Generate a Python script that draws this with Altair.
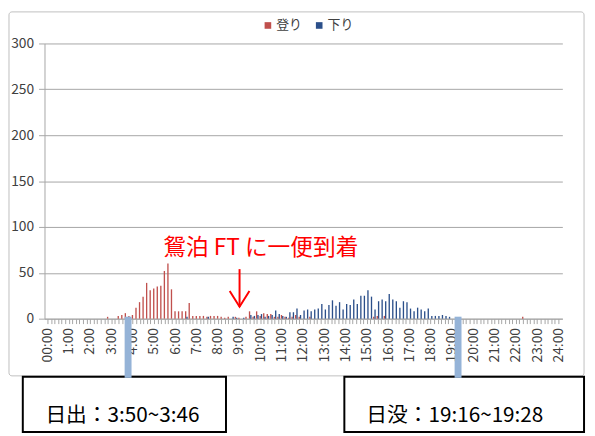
import altair as alt
import pandas as pd

FONT = "Noto Sans CJK JP"

# categories: 10-minute slots 00:00 .. 24:00
times = ["00:00"] + [f"{i // 6}:{(i % 6) * 10:02d}" for i in range(1, 145)]

# 登り (up) counts per 10-minute slot, one row per hour
up = [
    0, 0, 0, 0, 0, 0,      # 0h
    0, 0, 0, 0, 0, 0,      # 1h
    0, 0, 0, 0, 0, 2,      # 2h
    0, 0, 3, 4, 6, 3,      # 3h
    4, 12, 18, 24, 39, 31,  # 4h
    33, 35, 36, 52, 60, 32,  # 5h
    8, 8, 8, 8, 17, 3,     # 6h
    3, 3, 3, 2, 3, 3,      # 7h
    3, 2, 1, 2, 0, 2,      # 8h
    1, 0, 2, 8, 2, 8,      # 9h
    3, 6, 5, 5, 2, 2,      # 10h
    4, 2, 1, 2, 4, 2,      # 11h
    0, 0, 2, 0, 0, 0,      # 12h
    0, 0, 0, 0, 0, 0,      # 13h
    0, 0, 0, 0, 0, 0,      # 14h
    0, 0, 2, 3, 0, 3,      # 15h
    0, 0, 0, 0, 0, 0,      # 16h
    0, 0, 0, 0, 0, 0,      # 17h
    0, 0, 0, 0, 0, 0,      # 18h
    0, 0, 0, 0, 0, 0,      # 19h
    0, 0, 0, 0, 0, 0,      # 20h
    0, 0, 0, 0, 0, 0,      # 21h
    0, 0, 2, 0, 0, 0,      # 22h
    0, 0, 0, 0, 0, 0,      # 23h
    0,                     # 24:00
]

# 下り (down) counts per 10-minute slot
down = [
    0, 0, 0, 0, 0, 0,      # 0h
    0, 0, 0, 0, 0, 0,      # 1h
    0, 0, 0, 0, 0, 0,      # 2h
    0, 0, 0, 0, 0, 0,      # 3h
    0, 0, 0, 0, 0, 0,      # 4h
    0, 0, 0, 0, 0, 0,      # 5h
    0, 0, 0, 2, 0, 0,      # 6h
    0, 0, 0, 2, 0, 0,      # 7h
    0, 0, 0, 0, 2, 1,      # 8h
    0, 1, 0, 4, 3, 4,      # 9h
    5, 2, 3, 4, 9, 5,      # 10h
    3, 2, 7, 7, 11, 4,     # 11h
    9, 10, 8, 10, 11, 16,  # 12h
    10, 15, 20, 14, 18, 10,  # 13h
    16, 15, 21, 16, 25, 25,  # 14h
    31, 24, 10, 19, 21, 19,  # 15h
    27, 21, 19, 12, 19, 18,  # 16h
    11, 8, 12, 10, 8, 11,  # 17h
    3, 3, 3, 4, 3, 2,      # 18h
    0, 0, 0, 0, 0, 0,      # 19h
    0, 0, 0, 0, 0, 0,      # 20h
    0, 0, 0, 0, 0, 0,      # 21h
    0, 0, 0, 0, 0, 0,      # 22h
    0, 0, 0, 0, 0, 0,      # 23h
    0,                     # 24:00
]

series = ["登り", "下り"]
colors = ["#C0504D", "#2B4F8A"]

df = pd.DataFrame({
    "t": times * 2,
    "series": [series[0]] * len(times) + [series[1]] * len(times),
    "v": up + down,
})

xscale = alt.Scale(domain=times, paddingInner=0.25, paddingOuter=0.6)
yscale = alt.Scale(domain=[0, 300])

bars = alt.Chart(df).mark_bar().encode(
    x=alt.X("t:N", sort=times, scale=xscale, axis=alt.Axis(
        title=None, labelAngle=270,
        labelExpr="slice(datum.value, -2) == '00' ? datum.value : ''",
        labelFont=FONT, labelFontSize=14, labelColor="#404040",
        labelOverlap=False, labelPadding=4,
        tickColor="#A6A6A6", tickSize=5, domainColor="#A6A6A6", grid=False)),
    xOffset=alt.XOffset("series:N", sort=series),
    y=alt.Y("v:Q", scale=yscale, axis=alt.Axis(
        title=None, values=[0, 50, 100, 150, 200, 250, 300],
        labelFont=FONT, labelFontSize=14, labelColor="#404040",
        tickSize=6, tickColor="#A6A6A6", labelPadding=5, grid=True,
        gridColor="#A6A6A6", domainColor="#A6A6A6")),
    color=alt.Color("series:N", scale=alt.Scale(domain=series, range=colors),
                    sort=series,
                    legend=alt.Legend(title=None, orient="none", legendX=220,
                                      legendY=-25, direction="horizontal",
                                      symbolType="square", symbolSize=45,
                                      symbolStrokeWidth=0, labelOffset=2,
                                      labelFont=FONT, labelFontSize=13,
                                      labelColor="#404040", columnPadding=10)),
)

one = pd.DataFrame({"a": [0]})

frame = alt.Chart(one).mark_rect(fillOpacity=0, stroke="#BFBFBF", strokeWidth=1,
                                 cornerRadius=3).encode(
    x=alt.value(-36), x2=alt.value(547), y=alt.value(-32), y2=alt.value(337))

# sunrise / sunset markers
sun = pd.DataFrame({"t": ["3:50", "19:20"]})
sunbars = alt.Chart(sun).mark_bar(size=7, color="#95B3D7", xOffset=-1.5).encode(
    x=alt.X("t:N", sort=times, scale=xscale), y=alt.value(277), y2=alt.value(339))

# annotation
note = pd.DataFrame({"t": ["10:00"], "v": [77], "label": ["鴛泊 FT に一便到着"]})
note_text = alt.Chart(note).mark_text(font=FONT, fontSize=23, color="#FF0000",
                                      align="center", baseline="middle").encode(
    x=alt.X("t:N", sort=times, scale=xscale), y=alt.Y("v:Q", scale=yscale),
    text="label:N")

arrow = pd.DataFrame({"t": ["9:00"], "v": [54], "v2": [13]})
arrow_shaft = alt.Chart(arrow).mark_rule(color="#FF0000", strokeWidth=2).encode(
    x=alt.X("t:N", sort=times, scale=xscale), y=alt.Y("v:Q", scale=yscale),
    y2="v2:Q")
arrow_head = alt.Chart(arrow).mark_point(
    shape="M-1,-1.6L0,0L1,-1.6", size=400, filled=False, color="#FF0000",
    strokeWidth=2, opacity=1).encode(
    x=alt.X("t:N", sort=times, scale=xscale), y=alt.Y("v2:Q", scale=yscale))

# info boxes
box_left = alt.Chart(one).mark_rect(fill="white", stroke="black",
                                    strokeWidth=2).encode(
    x=alt.value(-22), x2=alt.value(184), y=alt.value(338), y2=alt.value(394))
box_right = alt.Chart(one).mark_rect(fill="white", stroke="black",
                                     strokeWidth=2).encode(
    x=alt.value(304), x2=alt.value(547), y=alt.value(338), y2=alt.value(394))
text_left = alt.Chart(one).mark_text(font=FONT, fontSize=21, color="black",
                                     align="center", baseline="middle",
                                     text="日出：3:50~3:46").encode(
    x=alt.value(79), y=alt.value(378))
text_right = alt.Chart(one).mark_text(font=FONT, fontSize=21, color="black",
                                      align="center", baseline="middle",
                                      text="日没：19:16~19:28").encode(
    x=alt.value(416), y=alt.value(378))

chart = alt.layer(
    frame, bars, note_text, arrow_shaft, arrow_head,
    box_left, box_right, text_left, text_right, sunbars
).properties(
    width=525, height=279,
    autosize=alt.AutoSizeParams(type="none"),
    padding={"left": 37, "top": 33, "right": 25, "bottom": 116},
).configure_view(stroke=None)

chart.save("out.html", embed_options={"renderer": "svg", "actions": False})
